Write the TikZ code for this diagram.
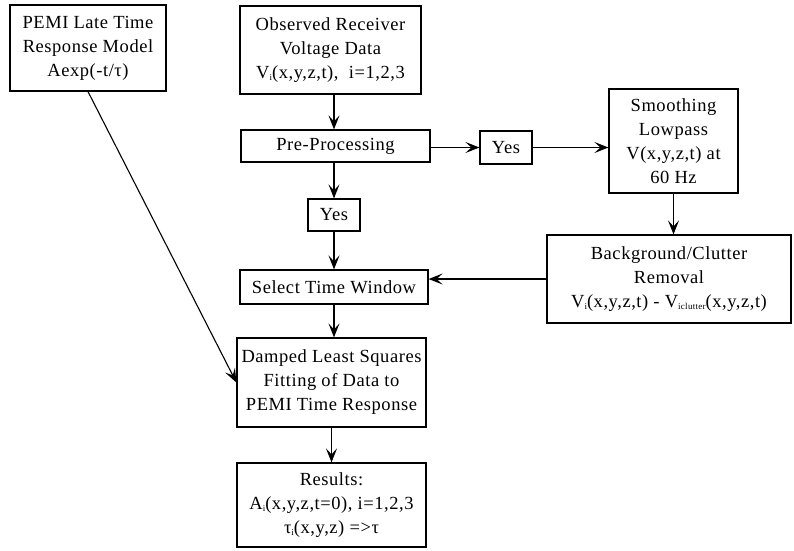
\documentclass[tikz,border=0pt]{standalone}
\usepackage{fontspec}
\setmainfont{Liberation Serif}[LetterSpace=3]
\usetikzlibrary{arrows.meta}
% small lowered index used in the formulas
\newcommand{\lowsub}[1]{\raisebox{-2.5pt}{\fontsize{9}{9}\selectfont #1}}
\begin{document}
\begin{tikzpicture}[x=1pt,y=-1pt,
  box/.style={draw, line width=1.2pt, align=center, inner sep=0pt,
              font=\fontsize{18.5}{24}\selectfont},
  flow/.style={line width=1.1pt, -{Stealth[length=14pt,width=11pt,inset=6pt]}}]
\useasboundingbox (0,0) rectangle (794,550);

% boxes
\node[box, minimum width=156pt, minimum height=86pt] (pemi) at (88,48)
  {PEMI Late Time\\Response Model\\Aexp(-t/τ)};
\node[box, minimum width=181pt, minimum height=88pt] (obs) at (330.5,50)
  {Observed Receiver\\Voltage Data\\V\lowsub{i}(x,y,z,t),\ \ i=1,2,3};
\node[box, minimum width=189pt, minimum height=32pt] (pre) at (335.5,146)
  {Pre-Processing};
\node[box, minimum width=52pt, minimum height=33pt] (yesa) at (506,147.5) {Yes};
\node[box, minimum width=129pt, minimum height=104pt] (smooth) at (673.5,141)
  {Smoothing\\Lowpass\\V(x,y,z,t) at\\60 Hz};
\node[box, minimum width=52pt, minimum height=32pt] (yesb) at (334,215) {Yes};
\node[box, minimum width=188pt, minimum height=34pt] (select) at (334,287)
  {Select Time Window};
\node[box, minimum width=244pt, minimum height=88pt] (bg) at (669,279)
  {Background/Clutter\\Removal\\V\lowsub{i}(x,y,z,t) - V\lowsub{iclutter}(x,y,z,t)};
\node[box, minimum width=189pt, minimum height=89pt] (damped) at (331.5,382.5)
  {Damped Least Squares\\Fitting of Data to\\PEMI Time Response};
\node[box, minimum width=189pt, minimum height=84pt] (results) at (331.5,505)
  {Results:\\A\lowsub{i}(x,y,z,t=0), i=1,2,3\\τ\lowsub{i}(x,y,z) =>τ};

% connectors
\draw[flow] (yesb.center |- obs.south) -- (yesb.center |- pre.north);
\draw[flow] (yesb.center |- pre.south) -- (yesb.north);
\draw[flow] (yesb.south) -- (yesb.center |- select.north);
\draw[flow] (select.south) -- (select.south |- damped.north);
\draw[flow] (damped.south) -- (damped.south |- results.north);
\draw[flow] (pre.east |- yesa.center) -- (yesa.west);
\draw[flow] (yesa.east) -- (yesa.east -| smooth.west);
\draw[flow] (smooth.south) -- (smooth.south |- bg.north);
\draw[flow] (bg.west) -- (bg.west -| select.east);
\draw[flow] (pemi.south) -- (damped.west);
\end{tikzpicture}
\end{document}
